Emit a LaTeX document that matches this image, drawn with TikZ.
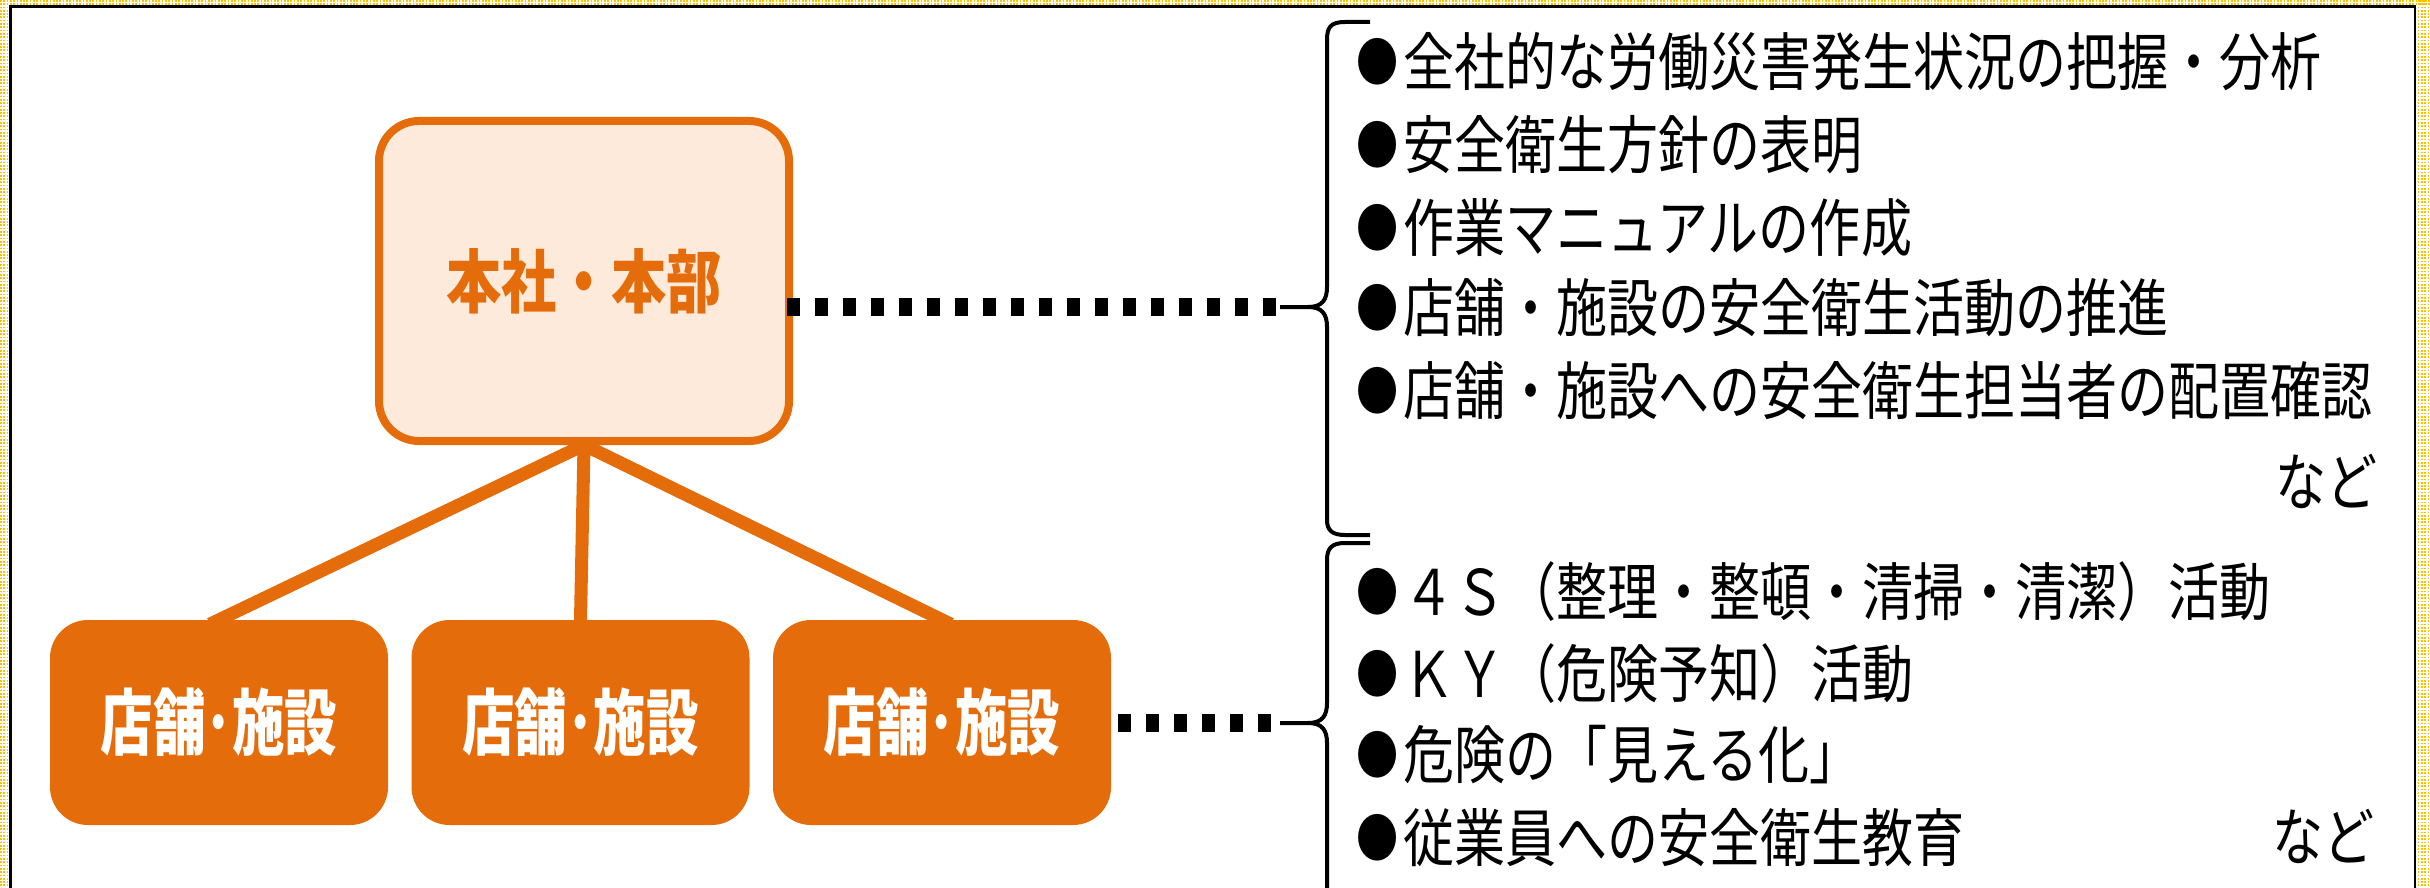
\documentclass[tikz,border=0pt]{standalone}
\usepackage{fontspec}
\newfontfamily\jp[FakeStretch=0.81]{Noto Sans CJK JP}
\newfontfamily\jptop[FakeStretch=0.80]{Noto Sans CJK JP}
\newfontfamily\jpshop[FakeStretch=0.73]{Noto Sans CJK JP}
\newcommand\blt{\makebox[51pt][c]{\raisebox{4pt}{\fontsize{52}{52}\selectfont ●}}}
\usetikzlibrary{calc,backgrounds}
\definecolor{orng}{HTML}{E46C0A}
\definecolor{lightorng}{HTML}{FDEADA}
\definecolor{frameyellow}{HTML}{FFC000}
\tikzset{
  topbox/.style={draw=orng, line width=8pt, fill=lightorng, rounded corners=40pt,
    minimum width=410pt, minimum height=320pt, inner sep=0pt, text=orng,
    font={\jptop\bfseries\fontsize{69}{69}\selectfont}},
  shopbox/.style={fill=orng, rounded corners=38pt, minimum width=338pt,
    minimum height=205pt, inner sep=0pt, text=white,
    font={\jpshop\bfseries\fontsize{72}{72}\selectfont}},
  tie/.style={draw=orng, line width=13pt},
  dotline/.style={draw=black, line width=18pt, dash pattern=on 13pt off 15pt},
  bracepath/.style={draw=black, line width=4pt, line join=round},
  item/.style={anchor=west, inner sep=0pt, text height=55.4pt, text depth=7.6pt,
    font={\jp\fontsize{63}{63}\selectfont}},
  itemend/.style={item, anchor=east},
  yelband/.style={draw=frameyellow, line width=1.7pt, dash pattern=on 1.7pt off 1.6pt},
  frameline/.style={draw=black, line width=2.6pt}
}
\begin{document}
\begin{tikzpicture}[x=1pt,y=-1pt]
\useasboundingbox (0,0) rectangle (2430,888);
\clip (0,0) rectangle (2430,888);
\begin{scope}[on background layer]
  \fill[white] (0,0) rectangle (2430,888);
\end{scope}
% outer dotted yellow band
\foreach \xx in {0.9,4.2,7.5} {\draw[yelband] (\xx,0) -- (\xx,888);}
\foreach \yy in {0.9,4.0} {\draw[yelband] (0,\yy) -- (2430,\yy);}
\foreach \xx in {2418.6,2421.9,2425.2,2428.5} {\draw[yelband] (\xx,0) -- (\xx,888);}
% black frame
\draw[frameline] (10.5,888) -- (10.5,6.3) -- (2414.8,6.3) -- (2414.8,888);

% boxes
\node[topbox] (top) at (584,281) {本社・本部};
\node[shopbox] (b1) at (219,722.5) {店舗･施設};
\node[shopbox] (b2) at (580.5,722.5) {店舗･施設};
\node[shopbox] (b3) at (942,722.5) {店舗･施設};
\begin{scope}[on background layer]
  \foreach \b in {b1,b2,b3} {
    \draw[tie] ($(top.south)!-10pt!(\b.north)$) -- ($(\b.north)!-10pt!(top.south)$);
  }
\end{scope}

% brace tips
\coordinate (tip1) at (1280,307);
\coordinate (tip2) at (1280,723);

% dotted connectors
\draw[dotline] ($(top.east |- tip1)+(-6,0)$) -- ($(tip1)+(-4,0)$);
\draw[dotline] ($(b3.east |- tip2)+(7,0)$) -- ($(tip2)+(-9,0)$);

% braces
\draw[bracepath] (1370,22) -- (1345,22) .. controls (1330,22) and (1327,28) .. (1327,40)
  -- (1327,287) .. controls (1327,300) and (1322,307) .. (1308,307) -- (tip1);
\draw[bracepath] (1308,307) .. controls (1322,307) and (1327,314) .. (1327,327)
  -- (1327,520) .. controls (1327,530) and (1332,535) .. (1345,535) -- (1370,535);
\draw[bracepath] (1370,543) -- (1345,543) .. controls (1332,543) and (1327,548) .. (1327,560)
  -- (1327,703) .. controls (1327,716) and (1322,723) .. (1308,723) -- (tip2);
\draw[bracepath] (1308,723) .. controls (1322,723) and (1327,730) .. (1327,743)
  -- (1327,900);

% items of the first brace
\node[item] (i1) at (1352,62) {\blt 全社的な労働災害発生状況の把握・分析};
\node[item] (i2) at (1352,145) {\blt 安全衛生方針の表明};
\node[item] (i3) at (1352,228) {\blt 作業マニュアルの作成};
\node[item] (i4) at (1352,308) {\blt 店舗・施設の安全衛生活動の推進};
\node[item] (i5) at (1352,391) {\blt 店舗・施設への安全衛生担当者の配置確認};
\node[itemend] (n1) at (2378,482) {など};

% items of the second brace
\node[item] (j1) at (1352,592) {\blt ４Ｓ（整理・整頓・清掃・清潔）活動};
\node[item] (j2) at (1352,674) {\blt ＫＹ（危険予知）活動};
\node[item] (j3) at (1352,755) {\blt 危険の「見える化」};
\node[item] (j4) at (1352,838) {\blt 従業員への安全衛生教育};
\node[itemend] (n2) at (2375,837) {など};
\end{tikzpicture}
\end{document}
